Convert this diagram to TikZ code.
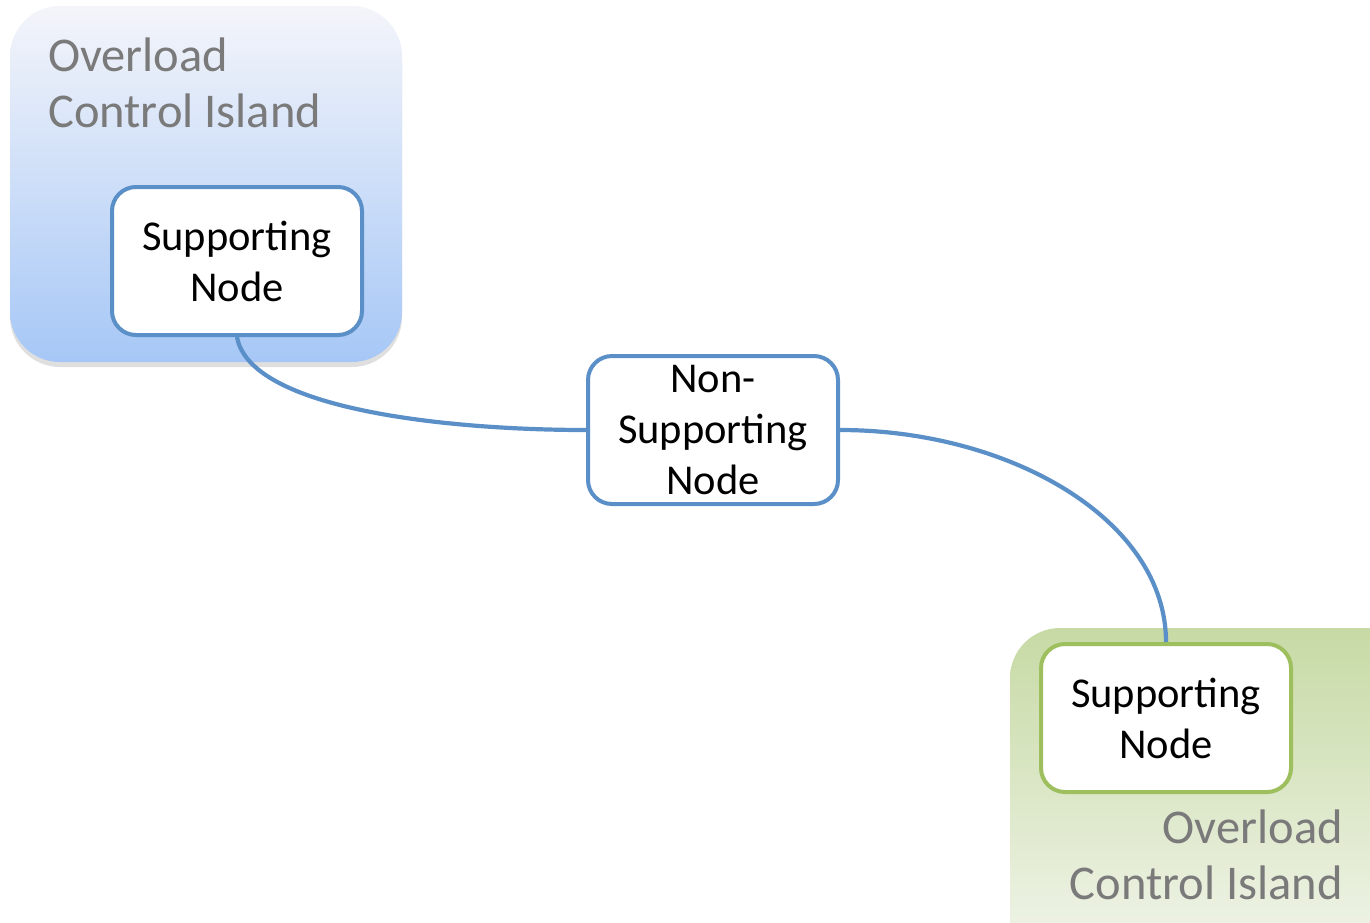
\documentclass[tikz,border=0pt]{standalone}
\usepackage{fontspec}
\setmainfont{Carlito}
\usetikzlibrary{shadows}
\definecolor{linkblue}{HTML}{5B8FC7}
\definecolor{nodegreen}{HTML}{9DBF5E}
\definecolor{titlegray}{HTML}{7A7A7A}
\definecolor{islandtopblue}{HTML}{F4F5FA}
\definecolor{islandbotblue}{HTML}{A6C7F6}
\definecolor{islandtopgreen}{HTML}{C7DAA5}
\definecolor{islandbotgreen}{HTML}{F5F7F1}
\tikzset{
  island/.style={rounded corners=50pt, draw=none},
  nodebox/.style={rounded corners=24pt, fill=white, line width=4pt,
    minimum width=250pt, minimum height=148pt, align=center,
    font=\fontsize{42.5}{51}\selectfont, inner sep=0pt},
  title/.style={align=left, text=titlegray, font=\fontsize{48.5}{56}\selectfont, inner sep=0pt},
  link/.style={draw=linkblue, line width=4.2pt}
}
\begin{document}
\begin{tikzpicture}[x=1pt,y=-1pt]
  \useasboundingbox (0,0) rectangle (1370,922);
  % islands
  \shade[island, top color=islandtopblue, bottom color=islandbotblue,
         drop shadow={opacity=0.25, shadow xshift=0pt, shadow yshift=-5pt}]
    (10,6) rectangle (402,362);
  \shade[island, top color=islandtopgreen, bottom color=islandbotgreen]
    (1010,628) rectangle (1430,990);
  % island titles
  \node[title, anchor=north west] (t1) at (48,38) {Overload\\Control Island};
  \node[title, anchor=north east, align=right] (t2) at (1343,810) {Overload\\Control Island};
  % nodes
  \node[nodebox, draw=linkblue] (s1) at (237,261) {Supporting\\Node};
  \node[nodebox, draw=linkblue] (ns) at (713,430) {Non-\\Supporting\\Node};
  \node[nodebox, draw=nodegreen] (s2) at (1166,718) {Supporting\\Node};
  % connectors
  \draw[link] (s1.south) .. controls (250,410) and (450,430) .. (ns.west);
  \draw[link] (ns.east) .. controls (1010,430) and (1166,520) .. (s2.north);
\end{tikzpicture}
\end{document}
